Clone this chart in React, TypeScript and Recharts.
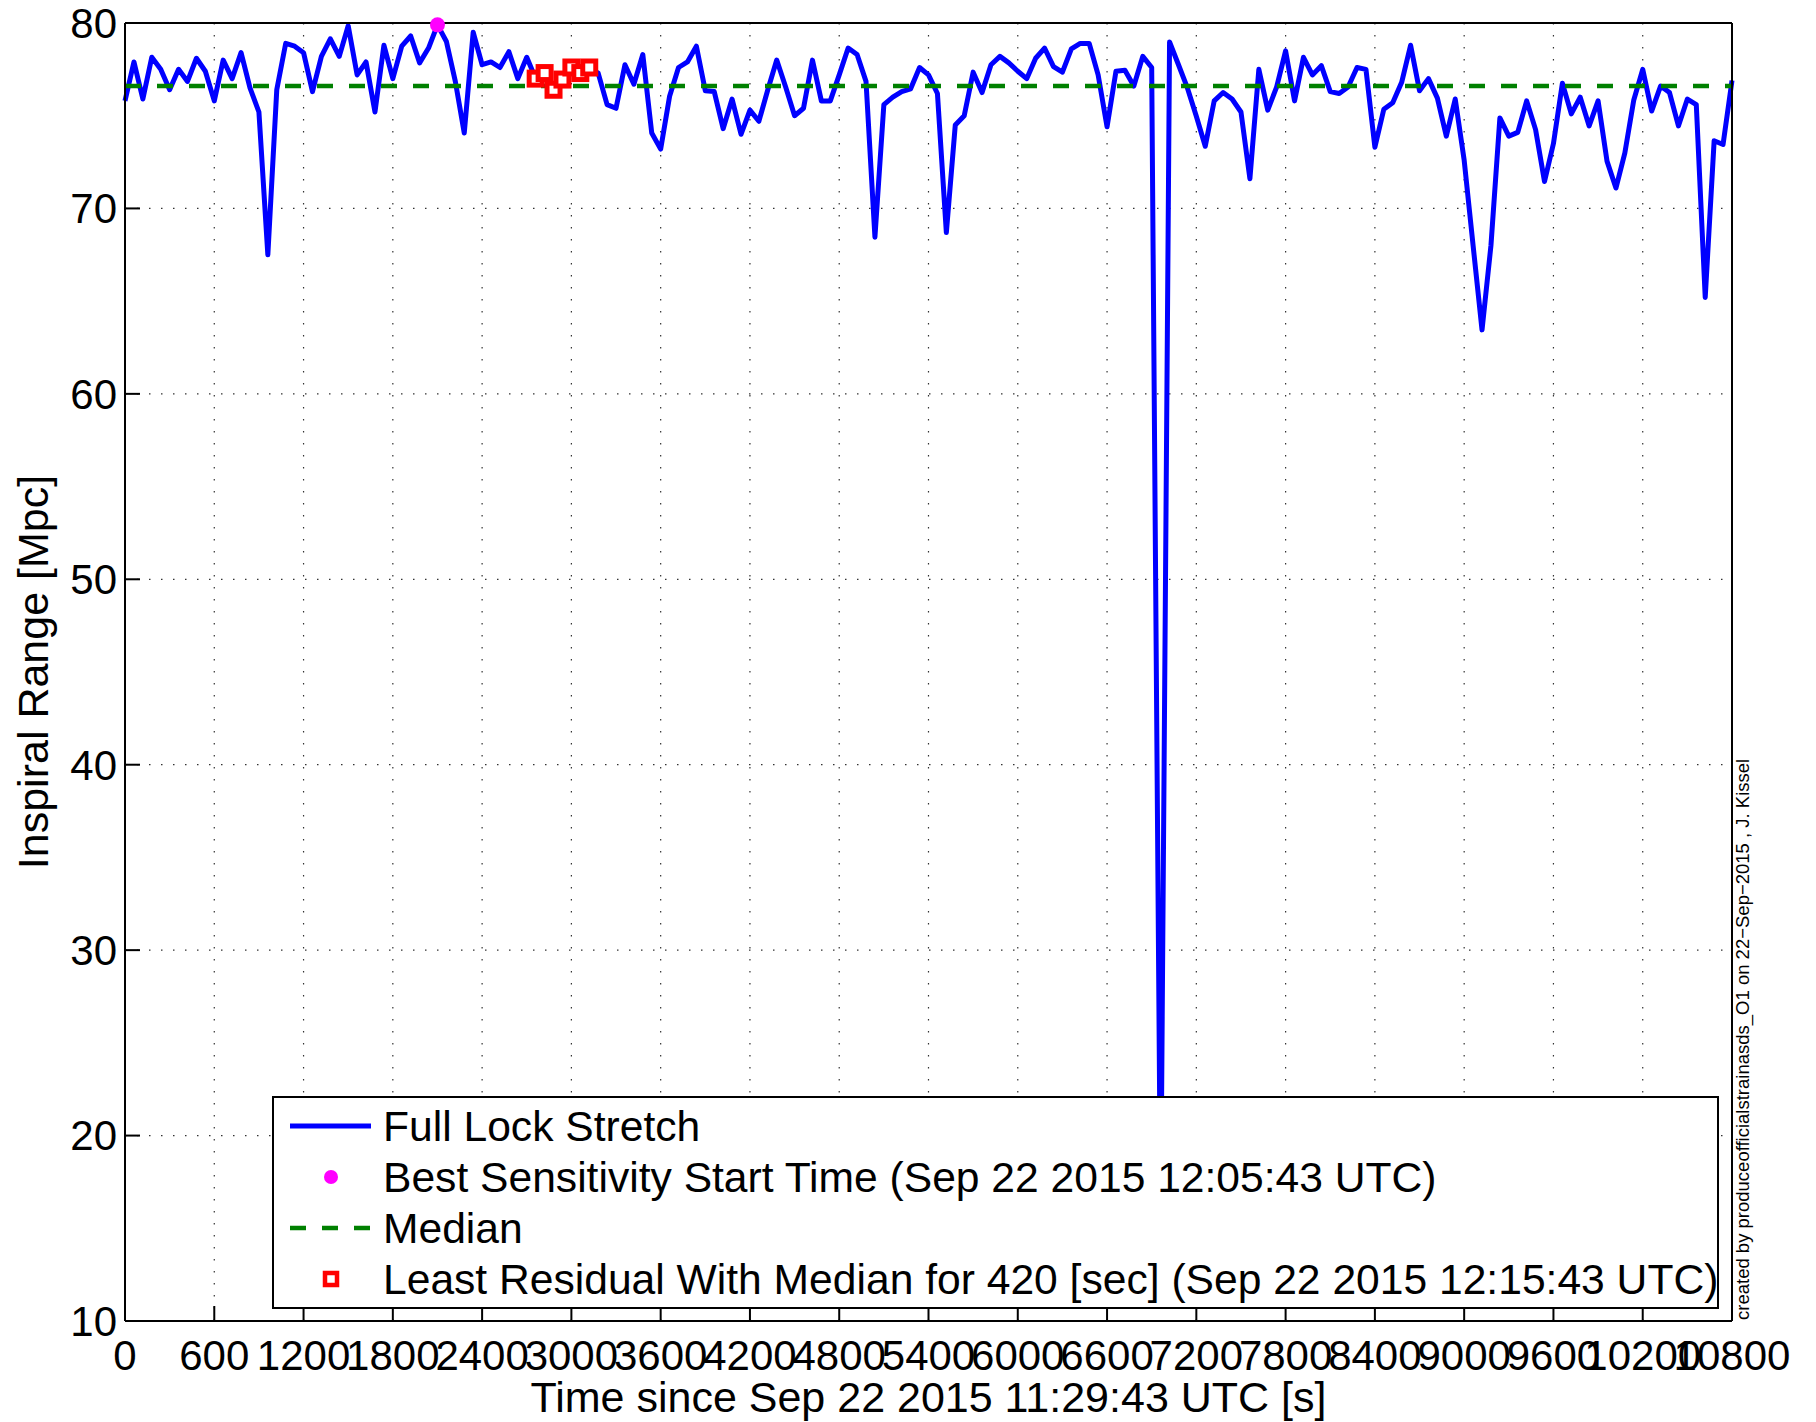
import React from 'react';
import { ComposedChart, Line, Scatter, XAxis, YAxis, CartesianGrid, ReferenceLine } from 'recharts';

// sampled once a minute from the start of the lock stretch
const SAMPLE_STEP = 60;

// inspiral range [Mpc], one value per minute
const inspiralRange = [
  75.8, 77.9, 75.9, 78.15, 77.5, 76.4, 77.5, 76.85, 78.1, 77.4,
  75.8, 78.0, 77.0, 78.4, 76.5, 75.2, 67.5, 76.4, 78.9, 78.75,
  78.4, 76.3, 78.2, 79.15, 78.2, 79.85, 77.2, 77.9, 75.2, 78.8,
  77.0, 78.75, 79.3, 77.85, 78.65, 79.9, 79.0, 76.85, 74.07, 79.5,
  77.75, 77.9, 77.6, 78.45, 77.0, 78.15, 77.0, 77.3, 76.4, 76.95,
  77.6, 77.3, 77.6, 77.3, 75.6, 75.4, 77.75, 76.7, 78.3, 74.07,
  73.2, 76.05, 77.6, 77.9, 78.75, 76.35, 76.3, 74.3, 75.9, 74.0,
  75.3, 74.7, 76.4, 78.0, 76.55, 75.0, 75.4, 78.0, 75.8, 75.8,
  77.2, 78.65, 78.3, 76.85, 68.45, 75.6, 76.0, 76.3, 76.45, 77.6,
  77.2, 76.2, 68.7, 74.5, 75.0, 77.35, 76.25, 77.75, 78.2, 77.85,
  77.4, 77.0, 78.1, 78.65, 77.65, 77.35, 78.6, 78.9, 78.9, 77.2,
  74.4, 77.4, 77.45, 76.6, 78.2, 77.6, 15.0, 78.98, 77.75, 76.5,
  74.97, 73.35, 75.8, 76.25, 75.9, 75.2, 71.6, 77.5, 75.3, 76.55,
  78.5, 75.8, 78.15, 77.2, 77.7, 76.3, 76.2, 76.55, 77.6, 77.5,
  73.3, 75.35, 75.7, 76.8, 78.8, 76.35, 77.0, 75.95, 73.9, 75.9,
  72.6, 68.0, 63.45, 68.0, 74.88, 73.9, 74.1, 75.8, 74.25, 71.45,
  73.5, 76.75, 75.1, 76.0, 74.45, 75.8, 72.55, 71.1, 73.0, 75.85,
  77.5, 75.25, 76.6, 76.25, 74.45, 75.9, 75.6, 65.2, 73.65, 73.45,
  76.9,
];

const medianRange = 76.6;
const bestTime = 2100;
const residualStart = 2760;
const residualSpan = 420;

const xTicks = [0, 600, 1200, 1800, 2400, 3000, 3600, 4200, 4800, 5400, 6000, 6600, 7200, 7800, 8400, 9000, 9600, 10200, 10800];
const yTicks = [10, 20, 30, 40, 50, 60, 70, 80];

const legendLabels = [
  'Full Lock Stretch',
  'Best Sensitivity Start Time (Sep 22 2015 12:05:43 UTC)',
  'Median',
  'Least Residual With Median for 420 [sec] (Sep 22 2015 12:15:43 UTC)',
];

const rangeData = inspiralRange.map((v, i) => ({ t: i * SAMPLE_STEP, range: v }));
const bestData = rangeData.filter((d) => d.t === bestTime);
const residualData = rangeData.filter((d) => d.t >= residualStart && d.t < residualStart + residualSpan);

const FONT = '"Liberation Sans", Arial, Helvetica, sans-serif';
const axisStyle = { stroke: '#000', strokeWidth: 2 };
const tickStyle = { fill: '#000', fontSize: 42, fontFamily: FONT };

const XTitle = (props: any) => {
  const { x, y, width } = props.viewBox;
  return (
    <text x={x + width / 2} y={y + 91} textAnchor="middle" fontSize={43} fontFamily={FONT} fill="#000">
      Time since Sep 22 2015 11:29:43 UTC [s]
    </text>
  );
};

const YTitle = (props: any) => {
  const { x, y, height } = props.viewBox;
  const cx = x + 43;
  const cy = y + height / 2;
  return (
    <text x={cx} y={cy} transform={`rotate(-90, ${cx}, ${cy})`} textAnchor="middle" fontSize={43} fontFamily={FONT} fill="#000">
      Inspiral Range [Mpc]
    </text>
  );
};

const CreditNote = (props: any) => {
  const { x, y, height } = props.viewBox;
  const cx = x + 17;
  const cy = y + height - 1;
  return (
    <text x={cx} y={cy} transform={`rotate(-90, ${cx}, ${cy})`} textAnchor="start" fontSize={18.5} fontFamily={FONT} fill="#000">
      created by produceofficialstrainasds_O1 on 22−Sep−2015 , J. Kissel
    </text>
  );
};

function LegendBox() {
  const sample = (i: number) => {
    if (i === 0) return <line x1={0} y1={25} x2={81} y2={25} stroke="#0000FF" strokeWidth={5} />;
    if (i === 1) return <circle cx={41} cy={25} r={7} fill="#FF00FF" />;
    if (i === 2) return <line x1={0} y1={25} x2={81} y2={25} stroke="#008000" strokeWidth={4.5} strokeDasharray="16 16" />;
    return <rect x={35} y={19} width={12} height={12} fill="#fff" stroke="#FF0000" strokeWidth={4.5} />;
  };
  return (
    <div
      style={{
        position: 'absolute', left: 272, top: 1096, width: 1447, height: 213, boxSizing: 'border-box',
        border: '2px solid #000', background: '#fff', paddingTop: 3, zIndex: 2,
      }}
    >
      {legendLabels.map((label, i) => (
        <div key={label} style={{ display: 'flex', alignItems: 'center', height: 51 }}>
          <svg width={81} height={51} style={{ marginLeft: 16, marginRight: 12, flex: 'none' }}>
            {sample(i)}
          </svg>
          <span style={{ fontFamily: FONT, fontSize: 42.6, lineHeight: '51px', whiteSpace: 'nowrap', color: '#000' }}>{label}</span>
        </div>
      ))}
    </div>
  );
}

export default function App() {
  return (
    <div style={{ position: 'absolute', left: 0, top: 0, width: 1816, height: 1422, background: '#fff' }}>
      <ComposedChart width={1816} height={1422} data={rangeData} margin={{ top: 22, right: 83, bottom: 41, left: 5 }}>
        <CartesianGrid stroke="#333" strokeWidth={1.2} strokeDasharray="1.5 10.5" />
        <XAxis
          type="number" dataKey="t" domain={[0, 10800]} ticks={xTicks} interval={0} height={60}
          tickSize={-15} tickMargin={34} axisLine={axisStyle} tickLine={axisStyle} tick={tickStyle}
          label={XTitle}
        />
        <XAxis
          xAxisId="top" orientation="top" type="number" domain={[0, 10800]} ticks={xTicks} interval={0}
          height={1} tickSize={-15} axisLine={axisStyle} tickLine={axisStyle} tick={false}
        />
        <YAxis
          type="number" domain={[10, 80]} ticks={yTicks} interval={0} width={120}
          tickSize={-15} tickMargin={23} axisLine={axisStyle} tickLine={axisStyle} tick={tickStyle}
          label={YTitle}
        />
        <YAxis
          yAxisId="right" orientation="right" type="number" domain={[10, 80]} ticks={yTicks} interval={0}
          width={1} tickSize={-15} axisLine={axisStyle} tickLine={axisStyle} tick={false} label={CreditNote}
        />
        <Line
          dataKey="range" stroke="#0000FF" strokeWidth={5} strokeLinejoin="round" dot={false}
          activeDot={false} isAnimationActive={false}
        />
        <Scatter
          data={bestData} dataKey="range" fill="#FF00FF" isAnimationActive={false}
          shape={(p: any) => <circle cx={p.cx} cy={p.cy} r={7.5} fill="#FF00FF" />}
        />
        <ReferenceLine y={medianRange} stroke="#008000" strokeWidth={4.5} strokeDasharray="16 16" />
        <Scatter
          data={residualData} dataKey="range" fill="#FF0000" isAnimationActive={false}
          shape={(p: any) => (
            <rect x={p.cx - 6.5} y={p.cy - 6.5} width={13} height={13} fill="#fff" stroke="#FF0000" strokeWidth={5} />
          )}
        />
      </ComposedChart>
      <LegendBox />
    </div>
  );
}
